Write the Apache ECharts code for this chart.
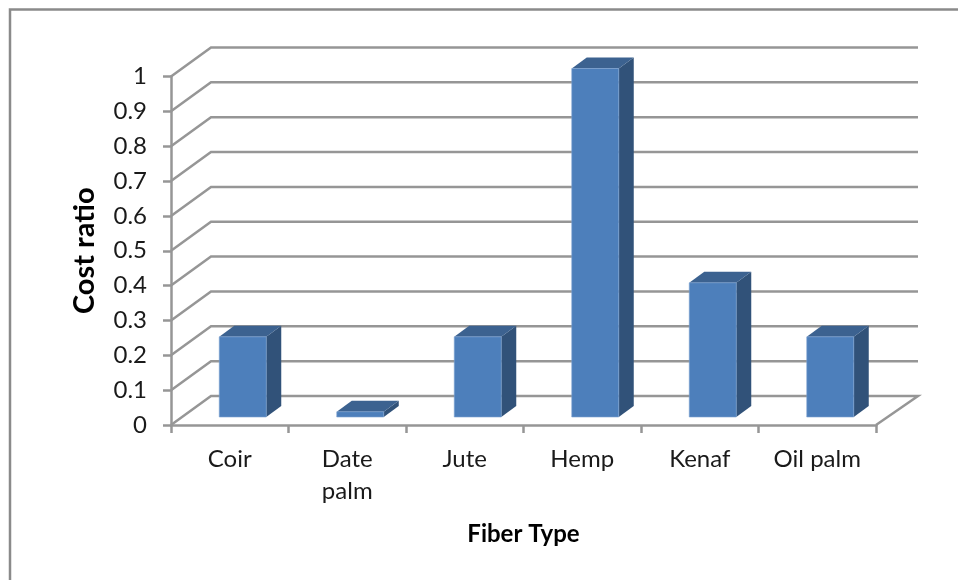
<!DOCTYPE html>
<html>
<head>
<meta charset="utf-8">
<style>html,body{margin:0;padding:0;background:#fff;overflow:hidden}#c{width:958px;height:580px}</style>
<script src="https://cdn.jsdelivr.net/npm/echarts@6/dist/echarts.min.js"></script>
</head>
<body>
<div id="c"></div>
<script>
var categories = ['Coir', 'Date\npalm', 'Jute', 'Hemp', 'Kenaf', 'Oil palm'];
var costRatio = [0.23, 0.015, 0.23, 1, 0.385, 0.23];
var gridValues = [0, 0.1, 0.2, 0.3, 0.4, 0.5, 0.6, 0.7, 0.8, 0.9, 1];

var GRAY = '#969696';
var FONT = 'Lato';
var chart = echarts.init(document.getElementById('c'), null, {renderer: 'canvas'});

function renderWall(params, api) {
  var v = api.value(0);
  var p = api.coord([0, v]);
  var w = api.size([1, 0])[0];
  var x0 = p[0] - w / 2, y = p[1];
  var x1 = x0 + w * categories.length;
  var pts = [[x0, y], [x0 + 40, y - 29], [x1 + 42, y - 29]];
  if (v === 0) pts.push([x1, y]);
  return {
    type: 'polyline',
    shape: {points: pts},
    style: {stroke: GRAY, lineWidth: 2.5, fill: null}
  };
}

function renderBar(params, api) {
  var i = api.value(0), v = api.value(1);
  var top = api.coord([i, v]);
  var base = api.coord([i, 0]);
  var l = top[0] + 13 - 23.5, r = l + 47;
  var t = top[1] - 8, b = base[1] - 8;
  var dx = 15, dy = 11;
  return {
    type: 'group',
    children: [
      {type: 'polygon', shape: {points: [[r, t], [r + dx, t - dy], [r + dx, b - dy], [r, b]]},
       style: {fill: '#315279'}},
      {type: 'polygon', shape: {points: [[l, t], [l + dx, t - dy], [r + dx, t - dy], [r, t]]},
       style: {fill: '#3c6290'}},
      {type: 'rect', shape: {x: l, y: t, width: r - l, height: b - t},
       style: {fill: '#4d7fbb', stroke: '#7ea3d1', lineWidth: 0.6}}
    ]
  };
}

chart.setOption({
  animation: false,
  backgroundColor: '#fff',
  grid: {left: 171, right: 82, top: 76.5, bottom: 155},
  graphic: [{
    type: 'rect', silent: true, z: -1,
    shape: {x: 10, y: 9.5, width: 2000, height: 2000},
    style: {fill: '#fff', stroke: '#8a8a8a', lineWidth: 2.5}
  }],
  xAxis: {
    type: 'category',
    data: categories,
    name: 'Fiber Type',
    nameLocation: 'middle',
    nameGap: 97,
    nameTextStyle: {fontFamily: FONT, fontWeight: 'bold', fontSize: 24, color: '#000'},
    axisLine: {lineStyle: {color: GRAY, width: 2.5}},
    axisTick: {show: true, length: 8, alignWithLabel: false, lineStyle: {color: GRAY, width: 2.5}},
    axisLabel: {fontFamily: FONT, fontSize: 24, color: '#1a1a1a', margin: 18, lineHeight: 32, interval: 0}
  },
  yAxis: {
    type: 'value',
    min: 0,
    max: 1,
    interval: 0.1,
    name: 'Cost ratio',
    nameLocation: 'middle',
    nameGap: 72,
    nameRotate: 90,
    nameTextStyle: {fontFamily: FONT, fontWeight: 'bold', fontSize: 29, color: '#000'},
    axisLine: {show: true, lineStyle: {color: GRAY, width: 2.5}},
    axisTick: {show: true, length: 8, lineStyle: {color: GRAY, width: 2.5}},
    axisLabel: {fontFamily: FONT, fontSize: 24, color: '#1a1a1a', margin: 24},
    splitLine: {show: false}
  },
  series: [
    {type: 'custom', coordinateSystem: 'cartesian2d', clip: false, silent: true, z: 1,
     encode: {y: 0}, data: gridValues.map(function (v) { return [v]; }), renderItem: renderWall},
    {type: 'custom', coordinateSystem: 'cartesian2d', clip: false, silent: true, z: 3,
     encode: {x: 0, y: 1}, data: costRatio.map(function (v, i) { return [i, v]; }), renderItem: renderBar}
  ]
});
</script>
</body>
</html>
